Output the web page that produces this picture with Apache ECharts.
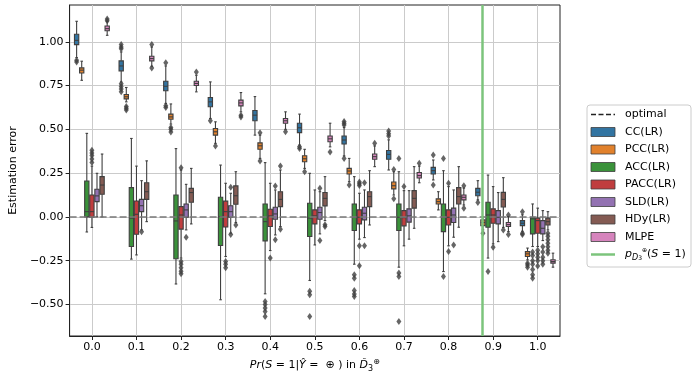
<!DOCTYPE html>
<html><head><meta charset="utf-8">
<script src="https://cdn.jsdelivr.net/npm/echarts@6/dist/echarts.min.js"></script>
<style>html,body{margin:0;padding:0;background:#fff}#c{width:697px;height:379px}</style>
</head><body><div id="c"></div>
<script>
// ---------- data ----------
const categories = ['0.0','0.1','0.2','0.3','0.4','0.5','0.6','0.7','0.8','0.9','1.0'];
const methods = ['CC(LR)','PCC(LR)','ACC(LR)','PACC(LR)','SLD(LR)','HDy(LR)','MLPE'];
const yTicks = [-0.5,-0.25,0,0.25,0.5,0.75,1.0];
const optimalValue = 0;
const trainPrevalence = 0.875; // p_D(S=1)

// [lower whisker, q1, median, q3, upper whisker] per category
const ccStats = [[0.91,0.984,1.008,1.043,1.117],[0.77,0.834,0.862,0.891,0.942],[0.648,0.72,0.746,0.775,0.862],[0.562,0.629,0.657,0.682,0.771],[0.467,0.549,0.581,0.608,0.687],[0.41,0.481,0.509,0.535,0.587],[0.348,0.416,0.439,0.462,0.51],[0.268,0.329,0.357,0.379,0.44],[0.211,0.245,0.264,0.283,0.325],[0.097,0.121,0.141,0.163,0.207],[-0.082,-0.05,-0.036,-0.021,0.012]];
const pccStats = [[0.78,0.822,0.838,0.851,0.889],[0.657,0.674,0.686,0.699,0.739],[0.53,0.558,0.571,0.587,0.645],[0.42,0.467,0.486,0.505,0.543],[0.334,0.386,0.406,0.423,0.467],[0.277,0.315,0.332,0.349,0.386],[0.201,0.245,0.262,0.277,0.334],[0.125,0.16,0.178,0.199,0.258],[0.04,0.074,0.087,0.103,0.144],[-0.074,-0.05,-0.032,-0.017,0.002],[-0.245,-0.226,-0.211,-0.198,-0.178]];
const accStats = [[-0.086,0.0,0.03,0.205,0.477],[-0.241,-0.169,-0.007,0.167,0.448],[-0.383,-0.239,-0.023,0.125,0.39],[-0.473,-0.163,0.002,0.112,0.296],[-0.439,-0.137,-0.027,0.074,0.31],[-0.363,-0.112,-0.007,0.078,0.249],[-0.27,-0.078,-0.002,0.074,0.23],[-0.287,-0.078,-0.002,0.074,0.258],[-0.312,-0.084,-0.002,0.074,0.264],[-0.235,-0.059,0.011,0.084,0.239],[-0.169,-0.097,-0.011,-0.002,0.074]];
const paccStats = [[-0.06,-0.002,0.03,0.125,0.29],[-0.217,-0.099,0.015,0.091,0.29],[-0.235,-0.07,0.011,0.059,0.268],[-0.226,-0.058,0.03,0.09,0.192],[-0.192,-0.055,0.006,0.044,0.192],[-0.16,-0.04,0.006,0.04,0.154],[-0.127,-0.04,-0.002,0.04,0.135],[-0.165,-0.051,-0.004,0.036,0.15],[-0.165,-0.046,-0.002,0.04,0.173],[-0.154,-0.036,0.011,0.046,0.173],[-0.169,-0.093,-0.021,-0.007,0.05]];
const sldStats = [[0.0,0.087,0.12,0.158,0.249],[-0.074,0.03,0.064,0.1,0.207],[-0.074,-0.002,0.04,0.074,0.186],[-0.093,-0.002,0.03,0.064,0.135],[-0.103,-0.013,0.017,0.055,0.154],[-0.097,-0.013,0.025,0.055,0.144],[-0.118,-0.017,0.021,0.055,0.154],[-0.127,-0.03,0.006,0.046,0.15],[-0.116,-0.032,0.011,0.05,0.154],[-0.141,-0.04,-0.002,0.036,0.139],[-0.135,-0.097,-0.065,-0.021,0.036]];
const hdyStats = [[0.0,0.129,0.182,0.23,0.359],[-0.027,0.1,0.144,0.195,0.32],[-0.04,0.084,0.139,0.163,0.277],[-0.032,0.072,0.121,0.177,0.258],[-0.055,0.059,0.1,0.144,0.268],[-0.021,0.063,0.106,0.139,0.23],[-0.046,0.059,0.116,0.144,0.264],[-0.065,0.05,0.106,0.15,0.287],[-0.059,0.074,0.116,0.167,0.287],[-0.06,0.057,0.1,0.14,0.224],[-0.074,-0.046,-0.027,-0.007,0.03]];
const mlpeStats = [[1.037,1.063,1.075,1.09,1.115],[0.86,0.891,0.904,0.917,0.97],[0.714,0.75,0.762,0.775,0.809],[0.6,0.634,0.651,0.667,0.71],[0.5,0.535,0.549,0.562,0.6],[0.4,0.429,0.446,0.462,0.535],[0.287,0.329,0.344,0.359,0.405],[0.195,0.222,0.236,0.254,0.29],[0.068,0.097,0.112,0.125,0.165],[-0.084,-0.055,-0.044,-0.032,0.002],[-0.287,-0.264,-0.255,-0.245,-0.207]];

// outliers: [category index, value]
const ccOut = [[0,0.895],[0,0.885],[1,0.985],[1,0.97],[1,0.96],[1,0.76],[1,0.745],[1,0.73],[1,0.715],[2,0.88],[2,0.635],[2,0.625],[3,0.549],[5,0.4],[5,0.39],[6,0.525],[6,0.535],[6,0.545],[6,0.334],[7,0.49],[7,0.475],[7,0.462],[8,0.353],[8,0.182],[9,0.082],[10,0.03],[10,-0.093],[10,-0.1]];
const pccOut = [[1,0.63],[1,0.62],[1,0.61],[2,0.51],[2,0.5],[2,0.485],[3,0.405],[4,0.48],[4,0.319],[5,0.258],[6,0.182],[7,0.27],[7,0.103],[9,-0.093],[10,-0.264],[10,-0.275],[10,-0.287]];
const accOut = [[4,-0.483],[4,-0.5],[4,-0.52],[4,-0.54],[4,-0.568],[5,-0.425],[5,-0.444],[5,-0.568],[6,-0.33],[6,-0.35],[6,-0.42],[6,-0.44],[6,-0.454],[7,0.334],[7,-0.32],[7,-0.34],[7,-0.597],[8,0.334],[8,-0.34],[9,-0.312],[10,-0.2],[10,-0.22],[10,-0.25],[10,-0.27],[10,-0.3],[10,-0.33],[10,-0.35]];
const paccOut = [[0,0.31],[0,0.33],[0,0.35],[0,0.365],[0,0.38],[2,0.28],[2,-0.255],[2,-0.27],[2,-0.29],[2,-0.31],[2,-0.325],[3,-0.255],[3,-0.27],[3,-0.29],[4,-0.235],[6,0.18],[6,0.19],[6,0.2],[6,-0.165],[6,-0.279],[7,0.173],[8,0.192],[8,-0.198],[9,-0.173],[10,-0.19],[10,-0.21],[10,-0.23],[10,-0.25],[10,-0.28]];
const sldOut = [[1,-0.085],[2,-0.116],[3,0.169],[3,-0.1],[4,0.177],[4,-0.131],[5,0.163],[5,-0.135],[6,0.195],[6,-0.165],[8,-0.161],[10,-0.17],[10,-0.2],[10,-0.23],[10,-0.25],[10,-0.27]];
const hdyOut = [[3,-0.046],[4,0.29],[4,-0.07],[5,-0.045],[5,-0.055],[9,-0.075],[10,-0.093],[10,-0.11],[10,-0.13],[10,-0.15],[10,-0.17],[10,-0.19],[10,-0.207]];
const mlpeOut = [[0,1.12],[0,1.13],[1,0.985],[1,0.85],[2,0.828],[3,0.57],[3,0.58],[4,0.486],[5,0.37],[6,0.42],[7,0.306],[8,0.178],[8,0.05],[9,0.011],[9,-0.1]];

const allStats = [ccStats, pccStats, accStats, paccStats, sldStats, hdyStats, mlpeStats];
const allOut = [ccOut, pccOut, accOut, paccOut, sldOut, hdyOut, mlpeOut];

// ---------- styling ----------
const colors = ['#3274a1','#e1812c','#3a923a','#c03d3e','#9372b2','#845b53','#d684bd'];
const FONT = 'DejaVu Sans';
const edge = '#3f3f3f';
const gridColor = '#cbcbcb';
const boxW = 0.8 / methods.length;
const hueOff = m => -0.4 + boxW * (m + 0.5);

function boxRender(m) {
  return function (params, api) {
    const x = api.value(0) + hueOff(m);
    const pMin = api.coord([x, api.value(1)]);
    const pQ1 = api.coord([x, api.value(2)]);
    const pMed = api.coord([x, api.value(3)]);
    const pQ3 = api.coord([x, api.value(4)]);
    const pMax = api.coord([x, api.value(5)]);
    const w = api.size([boxW, 0])[0];
    const cx = pMed[0], hw = w / 2 - 0.4, cw = w / 4;
    const ls = { stroke: edge, lineWidth: 1.1 };
    return { type: 'group', children: [
      { type: 'line', shape: { x1: cx, y1: pQ1[1], x2: cx, y2: pMin[1] }, style: ls },
      { type: 'line', shape: { x1: cx, y1: pQ3[1], x2: cx, y2: pMax[1] }, style: ls },
      { type: 'line', shape: { x1: cx - cw, y1: pMin[1], x2: cx + cw, y2: pMin[1] }, style: ls },
      { type: 'line', shape: { x1: cx - cw, y1: pMax[1], x2: cx + cw, y2: pMax[1] }, style: ls },
      { type: 'rect', shape: { x: cx - hw, y: pQ3[1], width: 2 * hw, height: pQ1[1] - pQ3[1] }, style: { fill: colors[m], stroke: edge, lineWidth: 1.1 } },
      { type: 'line', shape: { x1: cx - hw, y1: pMed[1], x2: cx + hw, y2: pMed[1] }, style: ls }
    ]};
  };
}

const series = [];
// vertical grid lines at every category centre
series.push({
  name: 'xgrid', type: 'scatter', data: [], z: 0, silent: true,
  markLine: { silent: true, symbol: 'none', label: { show: false }, z: 0,
    lineStyle: { color: gridColor, type: 'solid', width: 1 },
    data: categories.map((c, i) => ({ xAxis: i })) }
});
series.push({
  name: 'optimal', type: 'scatter', data: [], z: 1, silent: true,
  markLine: { silent: true, symbol: 'none', label: { show: false },
    lineStyle: { color: '#7a7a7a', type: [7, 3], width: 1.5 },
    data: [{ yAxis: optimalValue }] }
});
methods.forEach((name, m) => {
  series.push({
    name, type: 'custom', z: 3, silent: true,
    renderItem: boxRender(m),
    encode: { x: 0, y: [1, 2, 3, 4, 5] },
    data: allStats[m].map((s, g) => [g, ...s])
  });
  series.push({
    name: name + ' outliers', type: 'scatter', z: 3, silent: true,
    symbol: 'diamond', symbolSize: [5, 7],
    itemStyle: { color: edge },
    data: allOut[m].map(([g, v]) => [g + hueOff(m), v])
  });
});
series.push({
  name: 'train', type: 'scatter', data: [], z: 5, silent: true,
  markLine: { silent: true, symbol: 'none', label: { show: false }, z: 5,
    lineStyle: { color: '#7cc47c', type: 'solid', width: 2.5 },
    data: [{ xAxis: trainPrevalence * (categories.length - 1) }] }
});

// ---------- legend (graphic) ----------
const legX = 587, legTop = 105, rowH = 17.5, row0 = 114.5, patchX = 591, patchW = 24, textX = 625;
const legendChildren = [
  { type: 'rect', shape: { x: legX, y: legTop, width: 104, height: 162, r: 3 }, style: { fill: 'rgba(255,255,255,0.8)', stroke: '#cccccc', lineWidth: 1 } },
  { type: 'line', shape: { x1: patchX, y1: row0, x2: patchX + patchW, y2: row0 }, style: { stroke: '#222', lineWidth: 1.5, lineDash: [5, 2.5] } },
  { type: 'text', x: textX, y: row0, style: { text: 'optimal', font: '11px "DejaVu Sans"', fill: '#000', verticalAlign: 'middle' } }
];
methods.forEach((name, m) => {
  const y = row0 + rowH * (m + 1);
  legendChildren.push({ type: 'rect', shape: { x: patchX, y: y - 4.5, width: patchW, height: 9 }, style: { fill: colors[m], stroke: edge, lineWidth: 0.8 } });
  legendChildren.push({ type: 'text', x: textX, y, style: { text: name, font: '11px "DejaVu Sans"', fill: '#000', verticalAlign: 'middle' } });
});
const lastY = row0 + rowH * (methods.length + 1);
legendChildren.push({ type: 'line', shape: { x1: patchX, y1: lastY, x2: patchX + patchW, y2: lastY }, style: { stroke: '#7cc47c', lineWidth: 2.5 } });
legendChildren.push({ type: 'text', x: textX, y: lastY, style: {
  text: '{i|p}{s|D}{ss|3}{sp|⊕}({i|S} = 1)',
  font: '11px "DejaVu Sans"', fill: '#000', verticalAlign: 'middle',
  rich: {
    i: { fontFamily: FONT, fontSize: 11, fontStyle: 'italic', lineHeight: 14 },
    s: { fontFamily: FONT, fontSize: 8, fontStyle: 'italic', verticalAlign: 'bottom', lineHeight: 8 },
    ss: { fontFamily: FONT, fontSize: 6, verticalAlign: 'bottom', lineHeight: 6 },
    sp: { fontFamily: FONT, fontSize: 6, verticalAlign: 'top', lineHeight: 6 }
  } } });

const option = {
  animation: false,
  backgroundColor: '#fff',
  textStyle: { fontFamily: FONT },
  grid: { left: 61, right: 137, top: 5, bottom: 43, show: true, borderColor: '#222', borderWidth: 1, backgroundColor: 'transparent', containLabel: false },
  xAxis: {
    type: 'value', min: -0.5, max: categories.length - 0.5,
    axisLine: { show: true, onZero: false, lineStyle: { color: '#222' } },
    axisTick: { show: true, customValues: categories.map((c, i) => i), length: 4, lineStyle: { color: '#222' } },
    axisLabel: { customValues: categories.map((c, i) => i), formatter: v => categories[Math.round(v)], fontFamily: FONT, fontSize: 11, color: '#000', margin: 6 },
    splitLine: { show: false },
    name: '{i|Pr}({i|S} = 1|{i|Ŷ} =  ⊕ ) in {i|D̆}{s|3}{sp|⊕}',
    nameLocation: 'middle', nameGap: 20,
    nameTextStyle: { fontFamily: FONT, fontSize: 11, color: '#000',
      rich: {
        i: { fontFamily: FONT, fontSize: 11, fontStyle: 'italic', lineHeight: 15 },
        s: { fontFamily: FONT, fontSize: 8, verticalAlign: 'bottom', lineHeight: 8 },
        sp: { fontFamily: FONT, fontSize: 8, verticalAlign: 'top', lineHeight: 8 }
      } }
  },
  yAxis: {
    type: 'value', min: -0.68, max: 1.21,
    axisLine: { show: true, onZero: false, lineStyle: { color: '#222' } },
    axisTick: { show: true, customValues: yTicks, length: 4, lineStyle: { color: '#222' } },
    axisLabel: { customValues: yTicks, formatter: v => (v < 0 ? '\u2212' : '') + Math.abs(v).toFixed(2), fontFamily: FONT, fontSize: 11, color: '#000', margin: 6 },
    splitLine: { show: true, lineStyle: { color: gridColor, width: 1 } },
    name: 'Estimation error', nameLocation: 'middle', nameGap: 50,
    nameTextStyle: { fontFamily: FONT, fontSize: 11, color: '#000' }
  },
  graphic: [{ type: 'group', children: legendChildren }],
  series
};
const chart = echarts.init(document.getElementById('c'));
chart.setOption(option);
</script>
</body></html>
